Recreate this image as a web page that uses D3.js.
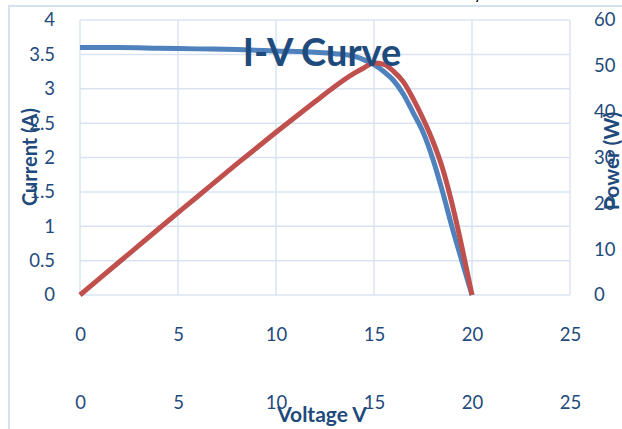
<!DOCTYPE html>
<html>
<head>
<meta charset="utf-8">
<script src="https://cdn.jsdelivr.net/npm/d3@7"></script>
<style>
  html, body { margin: 0; padding: 0; background: #fff; }
  svg { display: block; }
  text { font-family: Lato, "Open Sans", sans-serif; }
</style>
</head>
<body>
<svg id="chart" width="622" height="429"></svg>
<script>
// Panel voltage sweep (V)
const voltage = [0, 2, 4, 6, 8, 10, 12, 13, 14, 14.5, 15, 15.5, 16, 16.5, 17, 17.5, 18, 18.5, 19, 19.5, 20];
// Measured current (A)
const current = [3.60, 3.60, 3.59, 3.58, 3.57, 3.55, 3.53, 3.51, 3.47, 3.42, 3.35, 3.25, 3.12, 2.92, 2.65, 2.37, 1.98, 1.50, 0.97, 0.48, 0];
// Output power (W)
const power = [0, 7.2, 14.4, 21.5, 28.6, 35.5, 42.2, 45.5, 48.4, 49.6, 50.6, 50.3, 48.8, 46.5, 42.8, 38.5, 33.6, 27.6, 19.6, 10.2, 0];

const xTicks = [0, 5, 10, 15, 20, 25];
const currentTicks = [0, 0.5, 1, 1.5, 2, 2.5, 3, 3.5, 4];
const powerTicks = [0, 10, 20, 30, 40, 50, 60];

const svg = d3.select("#chart");
const textColor = "#1f4a7c";
const gridColor = "#d9e4f3";

const x = d3.scaleLinear().domain([0, 25]).range([80, 570]);
const yI = d3.scaleLinear().domain([0, 4]).range([295, 20]);
const yP = d3.scaleLinear().domain([0, 60]).range([295, 20]);

// Outer chart frame
svg.append("path")
  .attr("d", "M9,429 V6 H622")
  .attr("fill", "none")
  .attr("stroke", "#d6e2f2")
  .attr("stroke-width", 2);

// Caption fragment sitting above the frame
svg.append("text")
  .attr("x", 474).attr("y", -1)
  .attr("font-family", "Liberation Serif, serif")
  .attr("font-size", 16)
  .attr("fill", "#000")
  .text("y");

// Gridlines
const grid = svg.append("g");
grid.selectAll("line.h").data(currentTicks).join("line")
  .attr("x1", x(0)).attr("x2", x(25))
  .attr("y1", d => yI(d)).attr("y2", d => yI(d))
  .attr("stroke", gridColor).attr("stroke-width", 1.5);
grid.selectAll("line.v").data(xTicks).join("line")
  .attr("x1", d => x(d)).attr("x2", d => x(d))
  .attr("y1", yI(0)).attr("y2", yI(4))
  .attr("stroke", gridColor).attr("stroke-width", 1.5);

// Left axis (current)
const leftAxis = svg.append("g")
  .attr("transform", "translate(55,0)")
  .call(d3.axisLeft(yI).tickValues(currentTicks).tickSize(0).tickPadding(0).tickFormat(d3.format("")));
// Right axis (power)
const rightAxis = svg.append("g")
  .attr("transform", "translate(594,0)")
  .call(d3.axisRight(yP).tickValues(powerTicks).tickSize(0).tickPadding(0).tickFormat(d3.format("")));
// Two rows of voltage tick labels
const bottom1 = svg.append("g")
  .attr("transform", "translate(0,335)")
  .call(d3.axisBottom(x).tickValues(xTicks).tickSize(0).tickPadding(0));
const bottom2 = svg.append("g")
  .attr("transform", "translate(0,403)")
  .call(d3.axisBottom(x).tickValues(xTicks).tickSize(0).tickPadding(0));

[leftAxis, rightAxis, bottom1, bottom2].forEach(g => {
  g.select(".domain").remove();
  g.selectAll("text")
    .attr("font-family", "Lato, 'Open Sans', sans-serif")
    .attr("font-size", 18.5)
    .attr("fill", textColor);
});
[bottom1, bottom2].forEach(g => g.selectAll("text").attr("dy", "0.35em").attr("y", 0));

// Curves
const iLine = d3.line()
  .x((d, i) => x(voltage[i]))
  .y(d => yI(d))
  .curve(d3.curveMonotoneX);
const pLine = d3.line()
  .x((d, i) => x(voltage[i]))
  .y(d => yP(d))
  .curve(d3.curveMonotoneX);

svg.append("path")
  .datum(current)
  .attr("d", iLine)
  .attr("fill", "none")
  .attr("stroke", "#4f81bd")
  .attr("stroke-width", 5)
  .attr("stroke-linejoin", "round");

svg.append("path")
  .datum(power)
  .attr("d", pLine)
  .attr("fill", "none")
  .attr("stroke", "#c0504d")
  .attr("stroke-width", 5)
  .attr("stroke-linejoin", "round");

// Titles
svg.append("text")
  .attr("x", 322).attr("y", 66)
  .attr("text-anchor", "middle")
  .attr("font-size", 38)
  .attr("font-weight", 700)
  .attr("fill", textColor)
  .text("I-V Curve");

svg.append("text")
  .attr("x", 322).attr("y", 422)
  .attr("text-anchor", "middle")
  .attr("font-size", 21)
  .attr("font-weight", 700)
  .attr("fill", textColor)
  .text("Voltage V");

svg.append("text")
  .attr("transform", "translate(37,157) rotate(-90)")
  .attr("text-anchor", "middle")
  .attr("font-size", 20)
  .attr("font-weight", 700)
  .attr("fill", textColor)
  .text("Current (A)");

// Right-hand axis title, trimmed at its upper end
svg.append("clipPath").attr("id", "powerClip")
  .append("rect").attr("x", 590).attr("y", 107).attr("width", 40).attr("height", 200);
svg.append("g")
  .attr("clip-path", "url(#powerClip)")
  .append("text")
  .attr("transform", "translate(619,161) rotate(-90)")
  .attr("text-anchor", "middle")
  .attr("font-size", 21)
  .attr("font-weight", 700)
  .attr("fill", textColor)
  .text("Power (W)");
</script>
</body>
</html>
